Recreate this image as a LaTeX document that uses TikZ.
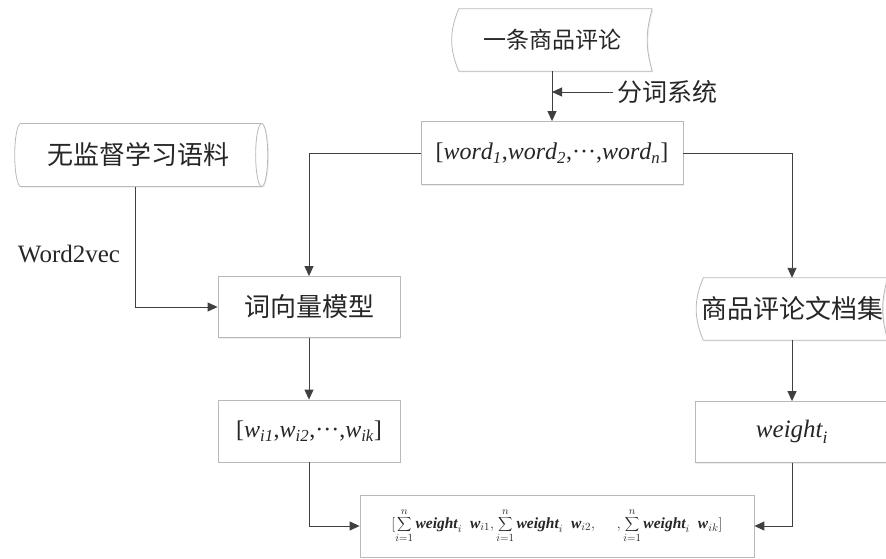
\documentclass[tikz,border=0pt]{standalone}
\usepackage{fontspec}
\setmainfont{Liberation Serif}
\newfontfamily\cjk{Noto Sans CJK SC}
\usetikzlibrary{arrows.meta,shapes.geometric,shadows,positioning,backgrounds}

\newcommand\bw[1]{\mbox{\bfseries\itshape #1}}
\newcommand\middots{\mbox{···}}

\tikzset{
  boxline/.style={draw=gray!55, line width=0.8pt},
  boxshadow/.style={drop shadow={shadow xshift=1.2pt, shadow yshift=-1.2pt, opacity=0.15}},
  box/.style={boxline, boxshadow, fill=white, minimum height=62pt, inner sep=0pt, text=black!85},
  stored/.style={minimum height=62pt, inner sep=0pt, text=black!85},
  link/.style={draw=black!75, line width=0.9pt},
  arr/.style={link, -{Triangle[length=10pt,width=9pt]}},
}

% stored-data outline round a plain node
\newcommand\storedoutline[1]{%
  \draw[boxline, boxshadow, fill=white]
    ([xshift=7pt]#1.north west) -- (#1.north east)
    to[bend right=16] (#1.south east)
    -- ([xshift=7pt]#1.south west)
    to[bend left=23] ([xshift=7pt]#1.north west) -- cycle;}

\begin{document}
\begin{tikzpicture}[x=1pt, y=1pt]
  \clip (0,0) rectangle (886,558);

  % nodes
  \node[stored, minimum width=200pt, font=\cjk\fontsize{23}{26}\selectfont] (review) at (552,518) {一条商品评论};
  \node[box, minimum width=262pt, minimum height=63pt, font=\fontsize{24}{28}\selectfont] (words) at (552,405)
    {[$\mathit{word}_{\mathit{1}}$,$\mathit{word}_{\mathit{2}}$,\middots,$\mathit{word}_{\mathit{n}}$]};
  \node[cylinder, shape aspect=0.5, boxline, boxshadow, fill=white, minimum height=253pt, minimum width=63pt,
        inner sep=0pt, text=black!85, font=\cjk\fontsize{26}{30}\selectfont] (corpus) at (138,403) {无监督学习语料};
  \node[box, minimum width=182pt, minimum height=61pt, font=\cjk\fontsize{26}{30}\selectfont] (vecmodel) at (309,251) {词向量模型};
  \node[stored, minimum width=191pt, font=\cjk\fontsize{26}{30}\selectfont] (docset) at (792,249) {商品评论文档集};
  \node[box, minimum width=182pt, font=\fontsize{24}{28}\selectfont] (wvec) at (309,127)
    {[$\mathit{w}_{\mathit{i1}}$,$\mathit{w}_{\mathit{i2}}$,\middots,$\mathit{w}_{\mathit{ik}}$]};
  \node[box, minimum width=194pt, minimum height=61pt, font=\fontsize{25}{28}\selectfont] (weight) at (792,126)
    {$\mathit{weight}_{\mathit{i}}$};
  \node[box, minimum width=394pt, font=\fontsize{15.5}{18}\selectfont] (result) at (557,32)
    {$\displaystyle[\sum_{i=1}^{n}\bw{weight}_{i}\;\;\bw{w}_{i1},\sum_{i=1}^{n}\bw{weight}_{i}\;\;\bw{w}_{i2},\quad\;,\sum_{i=1}^{n}\bw{weight}_{i}\;\;\bw{w}_{ik}]$};

  \node[inner sep=4pt, text=black!85, font=\cjk\fontsize{25}{28}\selectfont] (seg) at (667,466) {分词系统};
  \node[text=black!85, font=\fontsize{25}{28}\selectfont] (w2v) at (69,304) {Word2vec};

  \begin{scope}[on background layer]
    \storedoutline{review}
    \storedoutline{docset}
  \end{scope}

  % connectors
  \draw[arr] (review.south) -- (words.north);
  \draw[arr] (seg.west) -- (seg.west -| review.south);
  \draw[arr] (words.west) -| (vecmodel.north);
  \draw[arr] (words.east) -| (docset.north);
  \draw[arr] ([xshift=-3pt]corpus.south) |- (vecmodel.west);
  \draw[arr] (vecmodel.south) -- (wvec.north);
  \draw[arr] (docset.south) -- (weight.north);
  \draw[arr] (wvec.south) |- (result.west);
  \draw[arr] (weight.south) |- (result.east);
\end{tikzpicture}
\end{document}
